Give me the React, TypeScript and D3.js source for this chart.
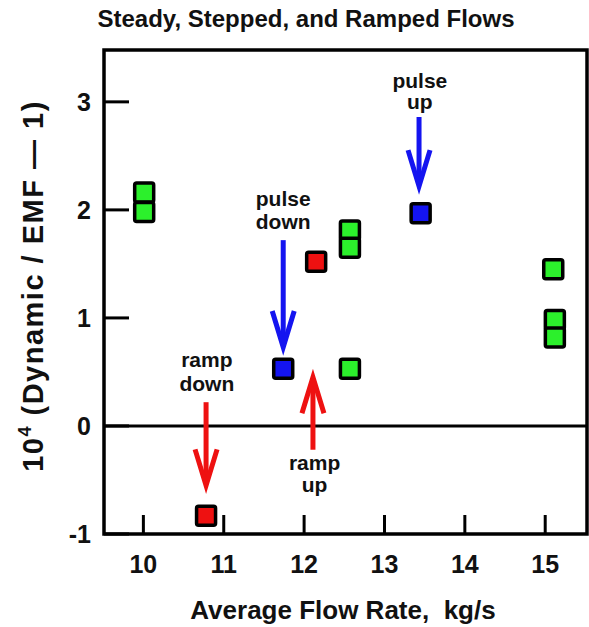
import React from "react";
import * as d3 from "d3";

const W = 589;
const H = 627;

const xTicks = [10, 11, 12, 13, 14, 15];
const yTicks = [-1, 0, 1, 2, 3];

const greenPoints: [number, number][] = [
  [10.01, 2.16],
  [10.01, 1.98],
  [12.57, 1.81],
  [12.57, 1.65],
  [12.57, 0.53],
  [15.1, 1.45],
  [15.12, 0.98],
  [15.12, 0.82],
];
const redPoints: [number, number][] = [
  [10.78, -0.83],
  [12.15, 1.52],
];
const bluePoints: [number, number][] = [
  [11.74, 0.53],
  [13.45, 1.97],
];

type Arrow = {
  lines: string[];
  color: string;
  x: number;
  yFrom: number;
  yTip: number;
  labelX: number;
  labelY: number[];
};

const arrows: Arrow[] = [
  { lines: ["pulse", "down"], color: "#1414f0", x: 11.74, yFrom: 1.72, yTip: 0.73, labelX: 11.74, labelY: [2.04, 1.82] },
  { lines: ["pulse", "up"], color: "#1414f0", x: 13.43, yFrom: 2.86, yTip: 2.22, labelX: 13.44, labelY: [3.13, 2.93] },
  { lines: ["ramp", "down"], color: "#ee1111", x: 10.78, yFrom: 0.22, yTip: -0.55, labelX: 10.79, labelY: [0.55, 0.32] },
  { lines: ["ramp", "up"], color: "#ee1111", x: 12.11, yFrom: -0.22, yTip: 0.45, labelX: 12.13, labelY: [-0.41, -0.61] },
];

const FONT = "'Liberation Sans', Arial, sans-serif";

export default function App() {
  const left = 104, right = 587, top = 50, bottom = 534;
  const x = d3.scaleLinear().domain([9.51, 15.52]).range([left, right]);
  const y = d3.scaleLinear().domain([-1, 3.48]).range([bottom, top]);
  const ms = 19;

  const marker = (pts: [number, number][], fill: string, key: string) =>
    pts.map((p, i) => (
      <rect
        key={key + i}
        x={x(p[0]) - ms / 2}
        y={y(p[1]) - ms / 2}
        width={ms}
        height={ms}
        rx={2}
        fill={fill}
        stroke="#000"
        strokeWidth={3.5}
      />
    ));

  return (
    <svg width={W} height={H} style={{ position: "absolute", left: 0, top: 0, background: "#fff" }} fontFamily={FONT}>
      <rect x={0} y={0} width={W} height={H} fill="#fff" />
      {/* title */}
      <text x={306} y={27} textAnchor="middle" fontSize={24} fontWeight="bold" fill="#111">
        Steady, Stepped, and Ramped Flows
      </text>
      {/* zero line */}
      <line x1={left} x2={right} y1={y(0)} y2={y(0)} stroke="#000" strokeWidth={3} />
      {/* y ticks */}
      {yTicks.map((t) => (
        <g key={"yt" + t}>
          <line x1={left} x2={left + 25} y1={y(t)} y2={y(t)} stroke="#000" strokeWidth={3} />
          <text x={91} y={y(t)} dy="0.36em" textAnchor="end" fontSize={25} fontWeight="bold" fill="#111">
            {t}
          </text>
        </g>
      ))}
      {/* x ticks */}
      {xTicks.map((t) => (
        <g key={"xt" + t}>
          <line x1={x(t)} x2={x(t)} y1={bottom} y2={bottom - 19} stroke="#000" strokeWidth={3} />
          <text x={x(t)} y={573} textAnchor="middle" fontSize={25} fontWeight="bold" fill="#111">
            {t}
          </text>
        </g>
      ))}
      {/* frame */}
      <rect x={left} y={top} width={right - left} height={bottom - top} fill="none" stroke="#000" strokeWidth={3.5} />
      {/* axis titles */}
      <text x={343} y={619} textAnchor="middle" fontSize={26} fontWeight="bold" fill="#111">
        Average Flow Rate,{"\u00a0"} kg/s
      </text>
      <text
        transform={`translate(43, 286) rotate(-90)`}
        textAnchor="middle"
        fontSize={29}
        fontWeight="bold"
        letterSpacing={1.5}
        fill="#111"
      >
        10<tspan fontSize={18} dy={-12}>4</tspan>
        <tspan dy={12}> (Dynamic / EMF — 1)</tspan>
      </text>
      {/* markers */}
      {marker(greenPoints, "#2cf02c", "g")}
      {marker(redPoints, "#ee1111", "r")}
      {marker(bluePoints, "#1414f0", "b")}
      {/* arrows */}
      {arrows.map((a, i) => {
        const ax = x(a.x);
        const y0 = y(a.yFrom);
        const yt = y(a.yTip);
        const dir = yt > y0 ? 1 : -1;
        const hl = 36, hw = 11;
        return (
          <g key={"a" + i}>
            <line x1={ax} x2={ax} y1={y0} y2={yt - dir * 4} stroke={a.color} strokeWidth={5} />
            <polyline
              points={`${ax - hw},${yt - dir * hl} ${ax},${yt} ${ax + hw},${yt - dir * hl}`}
              fill="none"
              stroke={a.color}
              strokeWidth={5}
              strokeLinejoin="miter"
              strokeMiterlimit={10}
            />
            {a.lines.map((l, j) => (
              <text key={j} x={x(a.labelX)} y={y(a.labelY[j])} textAnchor="middle" fontSize={21} fontWeight="bold" fill="#111">
                {l}
              </text>
            ))}
          </g>
        );
      })}
    </svg>
  );
}
